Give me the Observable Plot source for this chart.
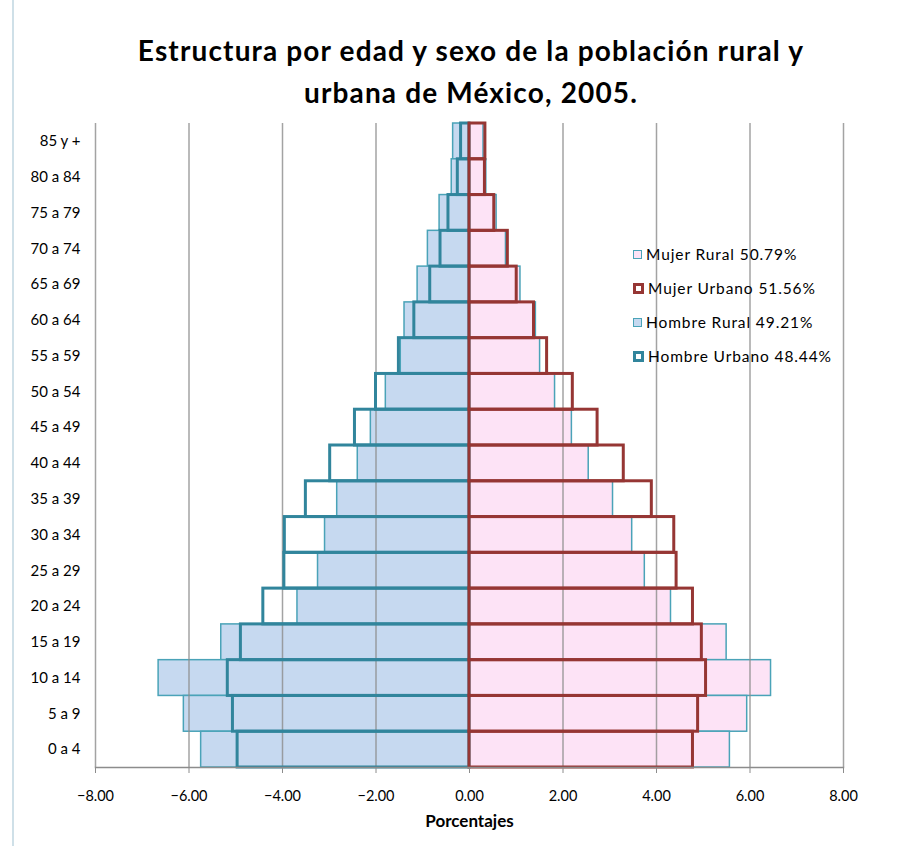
<!DOCTYPE html>
<html>
<head>
<meta charset="utf-8">
<script src="https://cdn.jsdelivr.net/npm/d3@7"></script>
<script src="https://cdn.jsdelivr.net/npm/@observablehq/plot@0.6"></script>
<style>
  body { margin: 0; background: #fff; font-family: Lato, "Open Sans", sans-serif; }
  #wrap { position: relative; width: 920px; height: 846px; overflow: hidden; }
  #frame { position: absolute; left: 12px; top: 0; width: 0; height: 846px; border-left: 2px solid #cfe0e8; }
  #title { position: absolute; left: 0; top: 29px; width: 942px; text-align: center; font-weight: 700; font-size: 28px; letter-spacing: 1.15px; line-height: 42px; color: #000; }
  #chart { position: absolute; left: 0; top: 110px; }
  #legend { position: absolute; left: 633px; top: 237px; font-size: 15.5px; letter-spacing: 0.9px; color: #000; }
  .li { display: flex; align-items: center; height: 34px; }
  .sw { width: 9px; height: 9px; margin-right: 4px; box-sizing: border-box; }
</style>
</head>
<body>
<div id="wrap">
  <div id="frame"></div>
  <div id="title">Estructura por edad y sexo de la población rural y<br>urbana de México, 2005.</div>
  <div id="chart"></div>
  <div id="legend"></div>
</div>
<script>
const ages = ["85 y +","80 a 84","75 a 79","70 a 74","65 a 69","60 a 64","55 a 59","50 a 54","45 a 49","40 a 44","35 a 39","30 a 34","25 a 29","20 a 24","15 a 19","10 a 14","5 a 9","0 a 4"];
const hombreRural  = [-0.35,-0.38,-0.64,-0.89,-1.11,-1.39,-1.47,-1.79,-2.11,-2.39,-2.83,-3.09,-3.24,-3.68,-5.31,-6.65,-6.11,-5.74];
const hombreUrbano = [-0.18,-0.25,-0.45,-0.62,-0.84,-1.18,-1.51,-2.00,-2.45,-2.98,-3.50,-3.95,-3.96,-4.41,-4.89,-5.17,-5.06,-4.96];
const mujerRural   = [0.30,0.36,0.58,0.78,1.09,1.42,1.51,1.83,2.19,2.55,3.07,3.48,3.75,4.31,5.50,6.45,5.94,5.57];
const mujerUrbano  = [0.34,0.33,0.53,0.82,1.01,1.38,1.66,2.21,2.74,3.30,3.90,4.38,4.43,4.78,4.97,5.06,4.89,4.78];
const xTicks = [-8,-6,-4,-2,0,2,4,6,8];
const legendItems = [
  {label: "Mujer Rural 50.79%", fill: "#fde3f6", stroke: "#4aa3b8", sw: 1.5},
  {label: "Mujer Urbano 51.56%", fill: "#ffffff", stroke: "#963634", sw: 3},
  {label: "Hombre Rural 49.21%", fill: "#c6d9f0", stroke: "#4aa3b8", sw: 1.5},
  {label: "Hombre Urbano 48.44%", fill: "#ffffff", stroke: "#31859c", sw: 3}
];

const rows = (vals) => ages.map((a, i) => ({age: a, v: vals[i]}));

const chart = Plot.plot({
  width: 920,
  height: 736,
  marginLeft: 95,
  marginRight: 77,
  marginTop: 13,
  marginBottom: 79,
  style: {fontFamily: "Lato, 'Open Sans', sans-serif", fontSize: "14px", color: "#000", background: "transparent"},
  x: {domain: [-8, 8], ticks: xTicks, tickFormat: d3.format(".2f"), label: null},
  y: {domain: ages, padding: 0, round: false, label: null},
  marks: [
    Plot.barX(rows(hombreRural), {x: "v", y: "age", fill: "#c6d9f0", stroke: "#4aa3b8", strokeWidth: 1.5}),
    Plot.barX(rows(mujerRural), {x: "v", y: "age", fill: "#fde3f6", stroke: "#4aa3b8", strokeWidth: 1.5}),
    Plot.ruleX(xTicks.filter(d => d !== 0), {stroke: "#8c8c8c", strokeWidth: 1.5, strokeOpacity: 0.8}),
    Plot.barX(rows(hombreUrbano), {x: "v", y: "age", fill: "none", stroke: "#31859c", strokeWidth: 3}),
    Plot.barX(rows(mujerUrbano), {x: "v", y: "age", fill: "none", stroke: "#963634", strokeWidth: 3}),
    Plot.frame({anchor: "bottom", stroke: "#8c8c8c", strokeWidth: 1.5}),
    Plot.axisX({ticks: xTicks, tickFormat: d3.format(".2f"), tickSize: 6, tickPadding: 17, stroke: "#8c8c8c", fontSize: 14.5, style: "letter-spacing:0.8px"}),
    Plot.axisY({tickSize: 0, tickPadding: 15, fontSize: 15, style: "letter-spacing:1px"}),
    Plot.text(["Porcentajes"], {frameAnchor: "bottom", dy: 59, fontWeight: "bold", fontSize: 17, style: "letter-spacing:1.1px"})
  ]
});
document.getElementById("chart").appendChild(chart);

const leg = document.getElementById("legend");
for (const it of legendItems) {
  const d = document.createElement("div");
  d.className = "li";
  const s = document.createElement("span");
  s.className = "sw";
  s.style.background = it.fill;
  s.style.border = `${it.sw}px solid ${it.stroke}`;
  if (it.sw > 2) { s.style.width = "11px"; s.style.height = "11px"; }
  const t = document.createElement("span");
  t.textContent = it.label;
  d.appendChild(s); d.appendChild(t);
  leg.appendChild(d);
}
</script>
</body>
</html>
